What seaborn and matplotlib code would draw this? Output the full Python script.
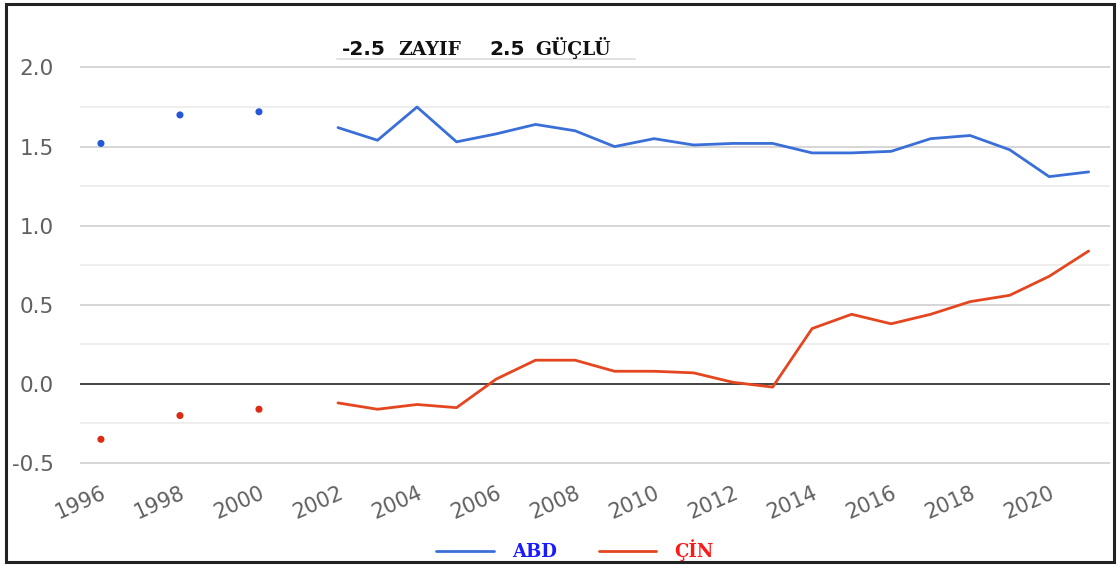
import matplotlib
matplotlib.use("Agg")
import numpy as np
import pandas as pd
import matplotlib.pyplot as plt
import seaborn as sns
from matplotlib.lines import Line2D
from matplotlib.patches import Rectangle

# Yönetişim göstergesi (-2.5 zayıf, 2.5 güçlü)
years = [1996, 1998, 2000, 2002, 2003, 2004, 2005, 2006, 2007, 2008, 2009,
         2010, 2011, 2012, 2013, 2014, 2015, 2016, 2017, 2018, 2019, 2020, 2021]
abd = [1.52, 1.70, 1.72, 1.62, 1.54, 1.75, 1.53, 1.58, 1.64, 1.60, 1.50,
       1.55, 1.51, 1.52, 1.52, 1.46, 1.46, 1.47, 1.55, 1.57, 1.48, 1.31, 1.34]
cin = [-0.35, -0.20, -0.16, -0.12, -0.16, -0.13, -0.15, 0.03, 0.15, 0.15, 0.08,
       0.08, 0.07, 0.01, -0.02, 0.35, 0.44, 0.38, 0.44, 0.52, 0.56, 0.68, 0.84]
year_ticks = list(range(1996, 2021, 2))
y_ticks = [-0.5, 0.0, 0.5, 1.0, 1.5, 2.0]

df = pd.DataFrame({"yil": years, "ABD": abd, "ÇİN": cin})
long = df.melt(id_vars="yil", var_name="ulke", value_name="deger")
# 2002 öncesi yıllar tek tek nokta olarak gösteriliyor
dots = long[long["yil"] < 2002]
lines = long[long["yil"] >= 2002]

line_colors = {"ABD": "#3a6fd8", "ÇİN": "#e4461f"}
dot_colors = {"ABD": "#2458d8", "ÇİN": "#dd2a12"}

sns.set_theme(style="white")
plt.rcParams["font.family"] = ["DejaVu Sans"]

W, H = 1119, 565
fig = plt.figure(figsize=(W / 100, H / 100), dpi=100)
ax = fig.add_axes([80 / W, 1 - 470 / H, 1030 / W, 450 / H])

sns.lineplot(data=lines, x="yil", y="deger", hue="ulke", palette=line_colors,
             linewidth=2.0, ax=ax, legend=False)
sns.scatterplot(data=dots, x="yil", y="deger", hue="ulke", palette=dot_colors,
                s=26, edgecolor="none", ax=ax, legend=False)

ax.set_xlim(1995.47, 2021.54)
ax.set_ylim(-0.544, 2.30)
ax.set_xticks(year_ticks)
ax.set_yticks(y_ticks)
ax.set_yticklabels([f"{v:.1f}" for v in y_ticks])
ax.set_yticks(np.arange(-0.25, 2.0, 0.5), minor=True)
ax.grid(axis="y", which="major", color="#d0d0d0", linewidth=1.2)
ax.grid(axis="y", which="minor", color="#ebebeb", linewidth=1.2)
ax.grid(axis="x", visible=False)
ax.axhline(0, color="#444444", linewidth=1.4, zorder=1)
ax.set_axisbelow(True)
for s in ax.spines.values():
    s.set_visible(False)
ax.set_xlabel("")
ax.set_ylabel("")
ax.tick_params(axis="y", length=0, pad=19, labelsize=15.5, labelcolor="#606060")
ax.tick_params(axis="x", length=0, pad=9, labelsize=15, labelcolor="#606060")
for lbl in ax.get_xticklabels():
    lbl.set_rotation(24)
    lbl.set_ha("right")
    lbl.set_rotation_mode("anchor")

# Başlık kutusu
fig.add_artist(Line2D([337 / W, 635 / W], [1 - 59 / H, 1 - 59 / H],
                      color="#dcdcdc", linewidth=1.2))
ty = 1 - 55 / H
fig.text(342 / W, ty, "-2.5", fontsize=14.5, fontweight="bold",
         family="DejaVu Sans", color="#111111", va="baseline")
fig.text(398 / W, ty, "ZAYIF", fontsize=13.5, fontweight="bold",
         family="DejaVu Serif", color="#111111", va="baseline")
fig.text(489 / W, ty, "2.5", fontsize=14.5, fontweight="bold",
         family="DejaVu Sans", color="#111111", va="baseline")
fig.text(535 / W, ty, "GÜÇLÜ", fontsize=13.5, fontweight="bold",
         family="DejaVu Serif", color="#111111", va="baseline")

# Alt lejant
handles = [Line2D([], [], color=line_colors["ABD"], linewidth=2),
           Line2D([], [], color=line_colors["ÇİN"], linewidth=2)]
leg = fig.legend(handles, ["ABD", "ÇİN"], loc="center",
                 bbox_to_anchor=(575 / W, 1 - 550 / H), ncol=2, frameon=False,
                 handlelength=3.2, handletextpad=1.0, columnspacing=2.3,
                 prop={"family": "DejaVu Serif", "weight": "bold", "size": 13})
leg.get_texts()[0].set_color("#1a1aff")
leg.get_texts()[1].set_color("#ff1a1a")

# Dış çerçeve
fig.add_artist(Rectangle((6 / W, 3 / H), 1108 / W, 558 / H, fill=False,
                         edgecolor="#222222", linewidth=2.2,
                         transform=fig.transFigure))

fig.savefig("out.png", dpi=100)
